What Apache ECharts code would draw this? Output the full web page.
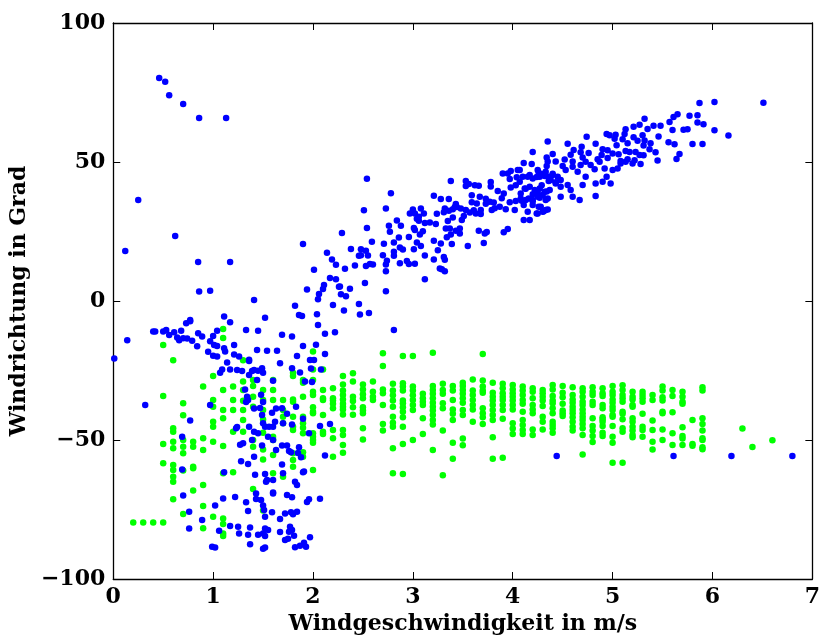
<!DOCTYPE html>
<html>
<head>
<meta charset="utf-8">
<script src="https://cdn.jsdelivr.net/npm/echarts@6/dist/echarts.min.js"></script>
<style>html,body{margin:0;padding:0;background:#fff;}#c{width:823px;height:644px;}</style>
</head>
<body>
<div id="c"></div>
<script>
const xTicks = [0,1,2,3,4,5,6,7];
const yTicks = [-100,-50,0,50,100];

const blueOutliers = [[0.46,80.2],[0.52,78.9],[0.56,74],[0.70,70.9],[0.86,65.8],[1.13,65.8],[0.25,36.3],[0.12,18],[0.62,23.4],[0.85,14],[1.17,14],[0.86,3.4],[0.97,3.7],[1.41,0.4],[1.52,-6],[1.11,-5.6],[0.77,-6.8],[0.01,-20.7],[0.14,-14.1],[0.32,-37.4],[2.81,-10.4],[4.44,-55.8],[5.61,-55.8],[6.19,-55.8],[6.80,-55.8],[6.51,71.3]];

const blueRise = [[1.90,20.5],[2.14,17.4],[2.19,14.9],[2.23,13],[2.01,11.2],[2.17,8.3],[2.23,7.8],[2.11,5.8],[2.10,4.3],[2.06,2.5],[2.05,0.6],[1.94,4.1],[2.20,-1.4],[1.82,-1.7],[1.86,-5],[1.89,-5.4],[2.04,-4.8],[2.26,5.1],
[2.29,24.5],[2.32,11.6],[2.27,5.2],[2.37,4.4],[2.52,6.5],[2.28,2.4],[2.33,1.7],[2.46,-1.1],[2.31,-3.4],[2.47,-4.9],[2.56,-4.3],[2.73,3.5],[2.22,-11.2],[2.12,-11.8],[1.90,-16.2],[2.03,-15.7],[2.12,-19.1],[2.05,-8.6]];

const blueBand = [[2.54,44.0],[2.78,38.8],[2.51,32.6],[2.73,33.3],[2.54,26.3],[2.76,27.1],[2.84,29.0],[2.88,27.1],[2.77,24.9],[2.59,21.3],[2.71,20.6],[2.81,21.0],[2.86,22.8],[2.96,23.0],[3.01,26.3],[3.02,25.5],[3.10,25.1],[3.07,23.9],[3.04,21.0],[3.08,19.8],[3.01,18.6],[3.12,16.4],[2.87,19.2],[2.90,18.5],[2.81,17.7],[2.81,16.3],[2.70,16.5],[2.74,14.5],[2.73,13.1],[2.73,10.7],[2.87,13.6],[2.94,14.4],[2.96,13.3],[3.02,13.4],[2.60,13.1],[2.53,12.6],[2.57,13.3],[2.48,18.6],[2.48,16.5],[2.46,16.3],[2.55,16.4],[2.53,18.1],[2.42,12.8],[2.38,18.7],[3.12,7.8],
[3.38,43.2],[3.53,43.2],[3.56,42.1],[3.62,41.6],[3.66,41.5],[3.53,41.4],[3.78,42.8],[3.78,41.2],[3.59,38.0],[3.21,37.9],[3.28,36.7],[3.36,36.7],[3.67,37.5],[3.64,35.1],[3.43,34.9],[3.42,33.8],[3.40,33.0],[3.44,33.8],[3.48,33.3],[3.32,33.3],[3.36,32.5],[3.31,31.9],[3.53,32.7],[3.57,31.8],[3.61,32.6],[3.59,35.5],[3.68,32.7],[3.63,31.5],[3.68,31.3],[3.73,36.8],[3.73,35.0],[3.77,35.7],[3.81,35.4],[3.82,33.4],[3.79,32.7],[3.85,39.6],[3.91,38.7],[3.89,37.0],[3.87,33.9],[3.93,33.0],[3.90,45.9],[3.95,45.9],[3.98,46.8],[4.05,47.1],[3.97,43.9],[4.04,44.5],[3.98,40.8],[4.03,41.6],[3.97,35.5],[4.03,36.0],[4.02,32.7],[3.95,25.9],[3.91,24.7],[3.72,24.3],[3.74,24.8],[3.66,25.3],[3.71,20.9],[3.55,19.8],[3.47,24.3],[3.39,20.5],[3.37,26.1],[3.33,26.1],[3.28,20.7],[3.25,18.3],[3.21,21.7],[3.21,14.9],[3.32,14.8],[3.31,15.8],[3.27,11.7],[3.32,10.7],[3.29,11.4],[3.47,26.1],[3.49,29.1],[3.51,30.6],[3.40,30.0],[3.35,28.8],[3.24,31.4],[3.23,27.7],[3.17,28.2],[3.12,28.1],[3.06,28.9],[3.11,31.5],[3.08,33.3],[3.00,32.9],[2.97,31.5],[3.02,31.5],[3.06,30.3],[3.04,29.6],[3.34,22.9],[3.38,23.9],[3.43,25.3]];

const blueHigh = [[4.11,49.6],[4.19,49.3],[4.34,48.6],[4.35,50.2],[4.07,42.9],[4.17,45.3],[4.24,44.6],[4.26,46.2],[4.32,45.0],[4.40,45.8],[4.43,42.7],[4.36,43.2],[4.29,41.6],[4.34,39.4],[4.25,39.2],[4.20,38.4],[4.13,40.4],[4.08,38.7],[4.09,36.1],[4.16,36.9],[4.20,35.9],[4.27,37.1],[4.33,36.3],[4.26,33.9],[4.31,32.3],[4.35,32.9],[4.24,31.5],[4.15,32.1],[4.11,29.1],[4.17,29.1],
[4.20,53.6],[4.35,57.4],[4.40,52.9],[4.34,51.6],[4.43,50.2],[4.07,47.1],[4.10,44.7],[4.15,44.7],[4.20,44.1],[4.25,47.1],[4.27,44.7],[4.30,45.7],[4.33,46.5],[4.36,44.7],[4.38,43.5],[4.40,45.3],[4.12,40.5],[4.17,41.1],[4.22,39.9],[4.27,40.5],[4.32,39.3],[4.37,39.9],[4.43,42.3],[4.08,36.9],[4.13,36.3],[4.20,36.3],[4.25,37.5],[4.30,38.1],[4.35,36.9],[4.11,34.5],[4.20,34.5],[4.28,33.9],[4.33,32.7],[4.25,31.5],[4.30,32.1],
[4.45,44.7],[4.48,43.5],[4.50,48.6],[4.53,47.1],[4.60,48.3],[4.65,46.5],[4.68,48.9],[4.73,50.1],[4.78,48.9],[4.82,47.4],[4.87,50.1],[4.92,47.7],[4.94,44.7],[5.00,47.1],[5.05,47.7],[5.08,49.5],[5.13,50.1],[5.20,49.5],[4.48,41.1],[4.55,41.7],[4.58,39.9],[4.70,41.7],[4.73,44.7],[4.83,42.3],[4.90,42.9],[4.98,42.3],[4.48,37.5],[4.60,37.5],[4.67,36.3],[4.83,37.8],
[4.52,50.9],[4.60,50.2],[4.70,51.6],[4.85,51.0],[4.90,54.6],[4.95,54.2],[4.89,52.5],[4.95,51.4],[5.00,53.1],[5.06,52.8],[5.08,50.4],[5.13,54.0],[5.17,53.6],[5.23,53.6],[5.15,51.0],[5.22,50.6],[5.28,49.3],[5.27,52.5],[5.31,52.4],[4.61,54.3],[4.69,55.5],[4.76,53.2],[4.68,53.5],[4.58,52.6],[4.74,59.1],[4.83,56.6],[4.55,56.6],
[5.32,65.6],[5.41,63.0],[5.48,63.0],[5.27,63.4],[5.21,62.7],[5.35,61.9],[5.46,59.2],[5.30,59.6],[5.32,57.7],[5.25,57.6],[5.38,56.7],[5.43,53.5],[5.45,50.5],[5.37,54.6],[5.31,55.9],[5.21,58.9],[5.13,61.8],[5.12,60.1],[5.03,59.8],[4.94,60.1],[4.97,59.6],[5.02,58.4],[5.10,58.2],[5.15,56.7],[5.04,56.0],
[5.87,71.2],[6.02,71.6],[5.61,66.2],[5.65,67.2],[5.77,66.6],[5.85,66.8],[5.57,64.4],[5.60,61.5],[5.71,61.6],[5.75,61.8],[5.85,64.2],[5.91,63.6],[6.02,61.4],[6.16,59.5],[5.80,56.5],[5.90,56.5],[5.56,57.1],[5.62,56.4],[5.64,51.1],[5.67,52.9]];

const blueLow = [[0.40,-11.0],[0.42,-11.0],[0.50,-11.0],[0.53,-10.4],[0.61,-11.2],[0.68,-10.7],[0.56,-12.2],[0.64,-13.1],[0.66,-14.1],[0.70,-13.4],[0.74,-13.5],[0.79,-14.3],[0.84,-16.3],[0.85,-11.6],[0.89,-12.8],[0.97,-14.5],[1.00,-12.6],[1.04,-10.7],[1.01,-15.8],[1.04,-16.2],[0.73,-8.0],[0.77,-7.3],[1.17,-7.6],[1.33,-10.4],[1.45,-10.7],[1.21,-15.8],[1.11,-17.0],[1.12,-18.2],[0.95,-18.3],[1.00,-19.7],[1.04,-20.0],[1.21,-19.2],[1.26,-20.0],[1.14,-22.1],[1.17,-24.6],[1.07,-25.8],[1.09,-24.6],[1.24,-24.8],[1.29,-25.2],[1.36,-21.1],[1.36,-21.6],[1.36,-26.6],[1.39,-25.2],[1.41,-24.8],[1.45,-25.1],[1.49,-24.2],[1.50,-25.8],[1.44,-28.4],[1.44,-17.6],[1.54,-17.9],[1.64,-17.9],[1.67,-22.4],[1.69,-12.1],[1.79,-12.8],[1.97,-21.2],[2.01,-21.2],[1.98,-24.3],[1.87,-25.7],[1.84,-19.8],[1.79,-24.2],[1.92,-29.0],[1.99,-29.1],[1.60,-28.7],[1.32,-31.8],[1.48,-33.7],[1.50,-36.3],[1.34,-34.4],[1.33,-36.3],[1.35,-35.6],[1.41,-38.7],[1.47,-38.5],[1.49,-41.0],[1.59,-40.2],[1.63,-38.7],[1.69,-38.6],[1.74,-40.6],[1.83,-38.0],[1.79,-44.4],[1.90,-42.4],[1.96,-47.6],[2.07,-45.0],[2.17,-44.2],[2.12,-55.6],[1.70,-44.0],[1.62,-43.4],[1.60,-45.2],[1.56,-45.2],[1.52,-45.2],[1.50,-44.0],[1.45,-47.6],[1.41,-47.0],[1.36,-45.2],[1.30,-51.2],[1.39,-50.0],[1.49,-52.0],[1.55,-48.8],[1.60,-50.0],[1.63,-53.6],[1.69,-52.0],[1.74,-52.0],[1.76,-54.0],[1.78,-54.4],[1.85,-54.7],[1.86,-52.6],[1.88,-56.2],[1.91,-61.3],[1.90,-61.6],[1.23,-45.8],[1.24,-45.3],[0.97,-37.4],[0.77,-43.0],[0.69,-60.6],[1.11,-61.6],[1.28,-57.6],[1.35,-58.6],[1.42,-62.5],[1.52,-62.2],[1.54,-64.4],[1.53,-65.0],[1.60,-64.4],[1.60,-69.2],[1.69,-58.8],[1.70,-62.0],[1.74,-69.8],[1.79,-70.6],[1.82,-65.0],[1.84,-66.2],[1.96,-71.3],[1.94,-72.3],[2.07,-71.1],[0.70,-70.0],[0.76,-75.8],[0.76,-81.8],[0.89,-78.8],[1.02,-73.6],[1.10,-71.0],[1.22,-70.5],[1.33,-72.4],[1.43,-69.2],[1.43,-71.2],[1.48,-71.6],[1.60,-68.9],[1.50,-73.6],[1.51,-75.2],[1.52,-77.6],[1.59,-76.0],[1.67,-78.4],[1.72,-76.4],[1.78,-76.0],[1.80,-76.7],[1.84,-75.8],[1.77,-81.2],[1.79,-82.4],[1.76,-83.0],[1.75,-85.5],[1.81,-84.4],[1.87,-88.0],[1.91,-87.0],[1.93,-88.4],[1.97,-85.0],[1.82,-88.6],[1.72,-86.0],[1.67,-83.1],[1.55,-82.4],[1.52,-81.8],[1.50,-83.6],[1.52,-84.5],[1.45,-84.1],[1.37,-87.5],[1.35,-84.1],[1.26,-83.6],[1.25,-81.2],[1.17,-80.9],[1.06,-82.6],[0.99,-88.4],[1.02,-88.7],[1.50,-89.1],[1.52,-88.7],[1.35,-75.5],[1.37,-81.5],[2.08,-24.6],[0.69,-48.8],[1.27,-51.7],[1.41,-56.0]];

const greenLeft = [[0.2,-79.7],[0.3,-79.7],[0.4,-79.7],
[0.5,-15.8],[0.5,-34.2],[0.5,-51.4],[0.5,-58.4],[0.5,-79.7],
[0.6,-21.3],[0.6,-45.8],[0.6,-47.0],[0.6,-50.6],[0.6,-53.0],[0.6,-59.0],[0.6,-60.8],[0.6,-63.2],[0.6,-65.0],[0.6,-71.3],
[0.7,-36.8],[0.7,-41.1],[0.7,-50.0],[0.7,-52.4],[0.7,-54.8],[0.7,-61.0],[0.7,-76.6],
[0.8,-50.6],[0.8,-52.4],[0.8,-59.6],[0.8,-60.2],[0.8,-68.2],
[0.9,-30.8],[0.9,-49.4],[0.9,-53.6],[0.9,-66.2],[0.9,-73.7],[0.9,-81.7],
[1.0,-27.0],[1.0,-35.6],[1.0,-38.0],[1.0,-43.4],[1.0,-45.2],[1.0,-50.6],[1.0,-77.6],
[1.1,-10.1],[1.1,-13.3],[1.1,-32.0],[1.1,-39.2],[1.1,-42.2],[1.1,-52.2],[1.1,-62.0],[1.1,-78.2],[1.1,-80.2],[1.1,-83.6],[1.1,-84.5],
[1.2,-30.8],[1.2,-35.6],[1.2,-39.2],[1.2,-47.0],[1.2,-61.6],
[1.3,-21.3],[1.3,-29.0],[1.3,-32.0],[1.3,-35.9],[1.3,-39.2],[1.3,-42.8],[1.3,-47.0],
[1.4,-28.4],[1.4,-30.6],[1.4,-34.4],[1.4,-38.0],[1.4,-50.0],[1.4,-52.4],[1.4,-67.6],
[1.5,-32.0],[1.5,-35.6],[1.5,-39.2],[1.5,-42.6],[1.5,-47.4],[1.5,-53.4],[1.5,-57.0],[1.5,-75.4],
[1.6,-28.4],[1.6,-32.0],[1.6,-35.6],[1.6,-48.8],[1.6,-50.0],[1.6,-55.4],[1.6,-62.0],
[1.7,-35.6],[1.7,-39.2],[1.7,-41.6],[1.7,-44.0],[1.7,-63.2],
[1.8,-25.8],[1.8,-27.0],[1.8,-35.4],[1.8,-36.2],[1.8,-41.6],[1.8,-45.2],[1.8,-46.4],[1.8,-54.8],[1.8,-57.2],[1.8,-59.6],
[1.9,-28.4],[1.9,-29.4],[1.9,-34.4],[1.9,-41.6],[1.9,-44.0],[1.9,-45.6],[1.9,-47.6],[1.9,-54.4],[1.9,-56.0]];

const greenMid = [[2.0,-18.2],[2.0,-24.6],[2.0,-28.4],[2.0,-32.6],[2.0,-33.8],[2.0,-38.2],[2.0,-39.8],[2.0,-40.4],[2.0,-47.6],[2.0,-48.8],[2.0,-50.0],[2.0,-51.0],[2.0,-60.8],
[2.1,-24.6],[2.1,-32.0],[2.1,-35.0],[2.1,-35.6],[2.1,-41.0],[2.1,-47.0],[2.1,-47.8],
[2.2,-31.4],[2.2,-35.0],[2.2,-35.8],[2.2,-37.0],[2.2,-38.6],[2.2,-46.4],[2.2,-49.4],[2.2,-56.0],
[2.3,-27.0],[2.3,-30.0],[2.3,-32.2],[2.3,-33.8],[2.3,-35.4],[2.3,-37.0],[2.3,-38.0],[2.3,-39.0],[2.3,-40.8],[2.3,-46.4],[2.3,-48.2],[2.3,-51.8],[2.3,-54.6],
[2.4,-26.0],[2.4,-29.0],[2.4,-34.4],[2.4,-36.0],[2.4,-38.2],[2.4,-40.9],
[2.5,-30.0],[2.5,-31.8],[2.5,-33.5],[2.5,-35.0],[2.5,-38.2],[2.5,-39.4],[2.5,-40.4],[2.5,-45.8],[2.5,-49.8],
[2.6,-29.0],[2.6,-32.6],[2.6,-34.4],[2.6,-35.6],
[2.7,-18.8],[2.7,-23.4],[2.7,-31.8],[2.7,-33.2],[2.7,-37.4],[2.7,-44.2],[2.7,-46.6],
[2.8,-29.8],[2.8,-32.2],[2.8,-33.9],[2.8,-35.8],[2.8,-38.0],[2.8,-41.6],[2.8,-43.8],[2.8,-45.2],[2.8,-53.0],[2.8,-62.0],
[2.9,-19.8],[2.9,-29.6],[2.9,-30.8],[2.9,-32.2],[2.9,-35.8],[2.9,-36.8],[2.9,-38.2],[2.9,-39.8],[2.9,-41.8],[2.9,-45.2],[2.9,-51.4],[2.9,-62.2],
[3.0,-19.8],[3.0,-30.8],[3.0,-32.2],[3.0,-33.9],[3.0,-35.6],[3.0,-37.4],[3.0,-39.2],[3.0,-50.0],
[3.1,-33.4],[3.1,-35.0],[3.1,-36.2],[3.1,-37.4],[3.1,-42.2],[3.1,-47.8],
[3.2,-18.6],[3.2,-30.6],[3.2,-32.0],[3.2,-33.4],[3.2,-35.0],[3.2,-36.6],[3.2,-38.0],[3.2,-39.4],[3.2,-41.0],[3.2,-42.8],[3.2,-44.4],[3.2,-53.6],
[3.3,-29.8],[3.3,-32.0],[3.3,-33.4],[3.3,-36.8],[3.3,-38.6],[3.3,-46.6],[3.3,-62.7],
[3.4,-30.6],[3.4,-32.2],[3.4,-35.6],[3.4,-39.0],[3.4,-40.6],[3.4,-42.8],[3.4,-51.0],[3.4,-56.7],
[3.5,-29.4],[3.5,-30.6],[3.5,-32.0],[3.5,-33.4],[3.5,-35.0],[3.5,-36.6],[3.5,-39.2],[3.5,-41.0],[3.5,-49.5],[3.5,-51.9],
[3.6,-28.2],[3.6,-32.2],[3.6,-33.8],[3.6,-35.6],[3.6,-37.4],[3.6,-39.0],[3.6,-43.4],
[3.7,-19.1],[3.7,-28.6],[3.7,-30.8],[3.7,-32.2],[3.7,-33.0],[3.7,-38.6],[3.7,-40.4],[3.7,-41.8],[3.7,-44.2],
[3.8,-29.4],[3.8,-33.0],[3.8,-34.4],[3.8,-35.8],[3.8,-37.4],[3.8,-39.2],[3.8,-41.0],[3.8,-42.8],[3.8,-49.0],[3.8,-56.7],
[3.9,-29.8],[3.9,-31.4],[3.9,-33.2],[3.9,-34.4],[3.9,-35.6],[3.9,-37.4],[3.9,-39.2],[3.9,-42.4],[3.9,-56.4],
[4.0,-30.2],[4.0,-31.8],[4.0,-33.2],[4.0,-34.4],[4.0,-35.8],[4.0,-37.4],[4.0,-39.0],[4.0,-44.0],[4.0,-45.9],[4.0,-47.8],
[4.1,-30.8],[4.1,-32.2],[4.1,-33.8],[4.1,-35.6],[4.1,-37.0],[4.1,-39.8],[4.1,-42.8],[4.1,-44.6],[4.1,-46.4],[4.1,-47.8],
[4.2,-31.4],[4.2,-32.6],[4.2,-35.0],[4.2,-37.4],[4.2,-39.0],[4.2,-40.4],[4.2,-46.2],[4.2,-48.2]];

const greenRight = [[4.3,-32.0],[4.3,-33.2],[4.3,-34.4],[4.3,-35.8],[4.3,-37.8],[4.3,-41.6],[4.3,-43.4],[4.3,-46.2],
[4.4,-30.2],[4.4,-31.8],[4.4,-34.2],[4.4,-35.8],[4.4,-36.8],[4.4,-38.6],[4.4,-40.4],[4.4,-43.4],[4.4,-44.6],[4.4,-45.8],[4.4,-47.4],
[4.5,-30.6],[4.5,-33.0],[4.5,-34.6],[4.5,-37.0],[4.5,-39.4],[4.5,-40.4],[4.5,-41.4],
[4.6,-31.0],[4.6,-33.8],[4.6,-35.4],[4.6,-36.6],[4.6,-38.0],[4.6,-39.2],[4.6,-40.4],[4.6,-41.8],[4.6,-43.4],[4.6,-45.2],[4.6,-46.6],
[4.7,-31.4],[4.7,-32.6],[4.7,-34.4],[4.7,-36.2],[4.7,-37.4],[4.7,-39.0],[4.7,-40.4],[4.7,-41.6],[4.7,-42.8],[4.7,-44.2],[4.7,-45.8],[4.7,-48.2],[4.7,-55.2],
[4.8,-31.0],[4.8,-32.6],[4.8,-33.8],[4.8,-36.2],[4.8,-37.4],[4.8,-42.2],[4.8,-45.0],[4.8,-46.6],[4.8,-48.6],[4.8,-50.7],
[4.9,-31.4],[4.9,-33.2],[4.9,-34.2],[4.9,-37.4],[4.9,-38.6],[4.9,-41.8],[4.9,-42.5],[4.9,-43.4],[4.9,-45.0],[4.9,-47.4],[4.9,-48.6],
[5.0,-30.6],[5.0,-32.6],[5.0,-33.8],[5.0,-35.4],[5.0,-36.6],[5.0,-38.0],[5.0,-39.2],[5.0,-41.0],[5.0,-41.6],[5.0,-45.0],[5.0,-48.8],[5.0,-51.0],[5.0,-58.2],
[5.1,-30.3],[5.1,-32.0],[5.1,-33.8],[5.1,-35.0],[5.1,-36.2],[5.1,-39.8],[5.1,-40.6],[5.1,-42.5],[5.1,-45.8],[5.1,-47.0],[5.1,-58.2],
[5.2,-32.6],[5.2,-34.4],[5.2,-35.4],[5.2,-37.4],[5.2,-38.0],[5.2,-42.2],[5.2,-43.4],[5.2,-45.2],[5.2,-46.6],[5.2,-48.2],[5.2,-49.0],
[5.3,-32.6],[5.3,-33.8],[5.3,-35.0],[5.3,-36.2],[5.3,-40.6],[5.3,-45.2],[5.3,-46.4],[5.3,-48.8],
[5.4,-33.8],[5.4,-35.6],[5.4,-43.0],[5.4,-46.4],[5.4,-50.6],[5.4,-53.4],
[5.5,-30.8],[5.5,-32.2],[5.5,-34.6],[5.5,-35.8],[5.5,-39.8],[5.5,-40.4],[5.5,-46.2],[5.5,-50.0],
[5.6,-32.0],[5.6,-34.2],[5.6,-40.0],[5.6,-47.6],[5.6,-51.8],
[5.7,-32.6],[5.7,-34.4],[5.7,-36.2],[5.7,-37.0],[5.7,-45.4],[5.7,-48.6],[5.7,-49.5],[5.7,-51.8],
[5.8,-42.8],[5.8,-51.4],[5.8,-52.1],
[5.9,-31.0],[5.9,-32.2],[5.9,-42.2],[5.9,-44.2],[5.9,-46.6],[5.9,-49.4],[5.9,-50.0],[5.9,-52.6],[5.9,-53.3],
[6.3,-45.9],[6.4,-52.5],[6.6,-50.1]];

const blueData = [].concat(blueOutliers, blueRise, blueBand, blueHigh, blueLow);
const greenData = [].concat(greenLeft, greenMid, greenRight);

const FONT = 'DejaVu Serif';
const fmt = v => (v < 0 ? '\u2212' + Math.abs(v) : String(v));
const axisLine = {show: true, onZero: false, lineStyle: {color: '#000', width: 1.3}};
const axisTick = {show: true, inside: true, length: 7, lineStyle: {color: '#000', width: 1}};
const labelStyle = {color: '#000', fontFamily: FONT, fontWeight: 'bold', fontSize: 22};

const chart = echarts.init(document.getElementById('c'), null, {renderer: 'canvas'});
chart.setOption({
  animation: false,
  backgroundColor: '#fff',
  grid: {left: 113, right: 9, top: 23, bottom: 65, show: false},
  xAxis: [
    {type: 'value', min: xTicks[0], max: xTicks[xTicks.length - 1], interval: 1, position: 'bottom',
     name: 'Windgeschwindigkeit in m/s', nameLocation: 'middle', nameGap: 32,
     nameTextStyle: {color: '#000', fontFamily: FONT, fontWeight: 'bold', fontSize: 22},
     axisLine: axisLine, axisTick: axisTick, splitLine: {show: false},
     axisLabel: Object.assign({margin: 7, formatter: fmt}, labelStyle)},
    {type: 'value', min: xTicks[0], max: xTicks[xTicks.length - 1], interval: 1, position: 'top',
     axisLine: axisLine, axisTick: axisTick, splitLine: {show: false}, axisLabel: {show: false}}
  ],
  yAxis: [
    {type: 'value', min: yTicks[0], max: yTicks[yTicks.length - 1], interval: 50, position: 'left',
     name: 'Windrichtung in Grad', nameLocation: 'middle', nameGap: 76,
     nameTextStyle: {color: '#000', fontFamily: FONT, fontWeight: 'bold', fontSize: 22},
     axisLine: axisLine, axisTick: axisTick, splitLine: {show: false},
     axisLabel: Object.assign({margin: 8, formatter: fmt}, labelStyle)},
    {type: 'value', min: yTicks[0], max: yTicks[yTicks.length - 1], interval: 50, position: 'right',
     axisLine: axisLine, axisTick: axisTick, splitLine: {show: false}, axisLabel: {show: false}}
  ],
  series: [
    {type: 'scatter', xAxisIndex: 0, yAxisIndex: 0, data: greenData, symbol: 'circle', symbolSize: 6.5,
     itemStyle: {color: '#00ff00', opacity: 1}, silent: true, z: 2},
    {type: 'scatter', xAxisIndex: 0, yAxisIndex: 0, data: blueData, symbol: 'circle', symbolSize: 6.5,
     itemStyle: {color: '#0000ff', opacity: 1}, silent: true, z: 3}
  ]
});
</script>
</body>
</html>
